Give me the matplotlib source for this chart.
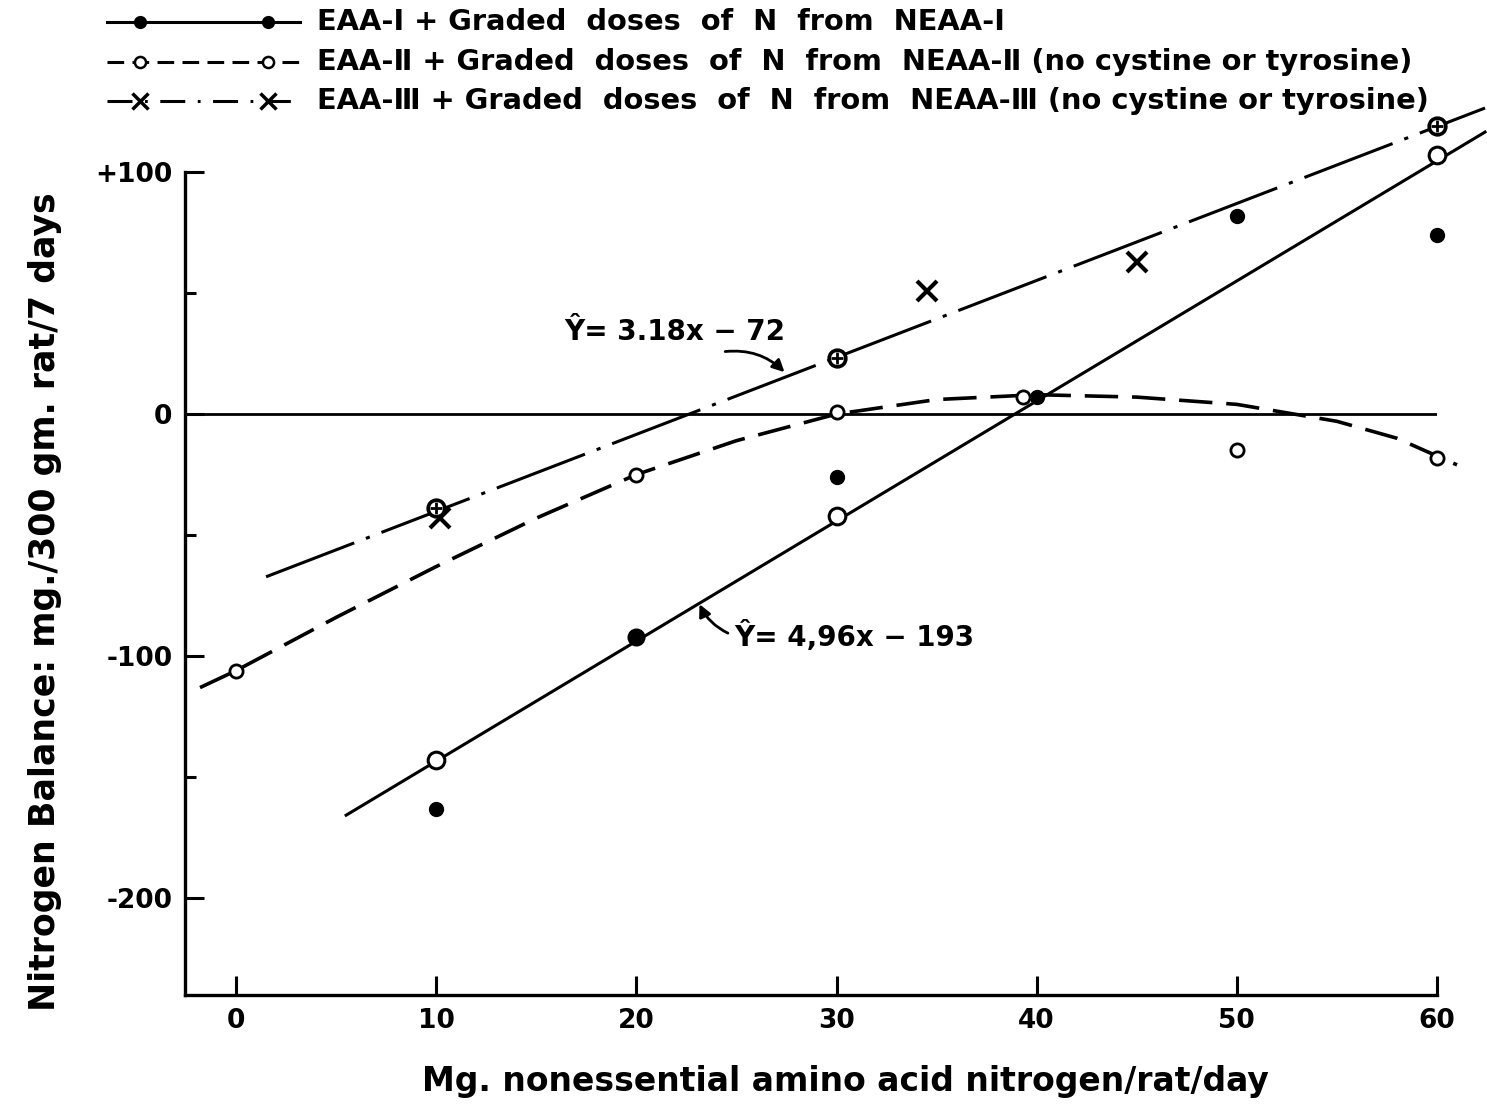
"""
窒素出納プロット（非必須アミノ酸窒素の段階投与）
"""
import matplotlib
matplotlib.use("Agg")
import matplotlib.pyplot as plt
from matplotlib.lines import Line2D

plt.rcParams['font.family'] = ['DejaVu Sans']
plt.rcParams['font.weight'] = 'bold'
plt.rcParams['lines.scale_dashes'] = False

# --- データ ---
# EAA-I 実測値（黒丸）
eaa1_x = [10, 30, 40, 50, 60]
eaa1_y = [-163, -26, 7, 82, 74]
# EAA-II 実測値（小さい白丸）
eaa2_x = [0, 20, 30, 39.3, 50, 60]
eaa2_y = [-106, -25, 1, 7, -15, -18]
# EAA-III 実測値（×）
eaa3_x = [10.2, 34.5, 45]
eaa3_y = [-43, 51, 63]

# 回帰直線 Y = 4.96x - 193（実線）上の点
fit1_x = [10, 30, 60]
fit1_y = [-143, -42, 107]
fit1_dark_x = [20]
fit1_dark_y = [-92]
# 回帰直線 Y = 3.18x - 72（一点鎖線）上の点
fit3_x = [10, 30, 60]
fit3_y = [-39, 23, 119]

# 回帰式の係数と描画範囲
line1_coef = (4.96, -193)
line1_range = [5.5, 62.4]
line3_coef = (3.18, -72)
line3_range = [1.5, 62.4]

# EAA-II の曲線（破線）
curve_x = [-1.8, 0, 5, 10, 15, 20, 25, 30, 35, 40, 45, 50, 55, 58, 61]
curve_y = [-113, -106, -84, -63, -43, -25, -11, 0, 6, 8, 7, 4, -3, -10, -21]

x_ticks = [0, 10, 20, 30, 40, 50, 60]
y_ticks = [100, 0, -100, -200]
y_ticklabels = ['+100', '0', '-100', '-200']
y_minor = [50, -50, -150]

legend_labels = [
    'EAA-I + Graded  doses  of  N  from  NEAA-I',
    'EAA-Ⅱ + Graded  doses  of  N  from  NEAA-Ⅱ (no cystine or tyrosine)',
    'EAA-Ⅲ + Graded  doses  of  N  from  NEAA-Ⅲ (no cystine or tyrosine)',
]

W, H = 1487, 1112
fig = plt.figure(figsize=(W / 100, H / 100), dpi=100)
ax = fig.add_axes([185 / W, 1 - 995 / H, (1437 - 185) / W, (995 - 172) / H])

dash_style = (0, (24, 10))
dashdot_style = (0, (68, 9, 3, 9))
lw = 2.2

# 直線・曲線
def reg(coef, xs):
    return [coef[0] * x + coef[1] for x in xs]

ax.plot(line1_range, reg(line1_coef, line1_range), color='black', lw=lw, clip_on=False)
ax.plot(line3_range, reg(line3_coef, line3_range), color='black', lw=lw,
        ls=dashdot_style, clip_on=False)
ax.plot(curve_x, curve_y, color='black', lw=2.6, ls=dash_style, clip_on=False)
ax.axhline(0, xmax=1.0, color='black', lw=2.0)

# マーカー
ax.plot(eaa1_x, eaa1_y, 'o', ms=10, color='black', clip_on=False, zorder=5)
ax.plot(eaa2_x, eaa2_y, 'o', ms=9.5, mfc='white', mec='black', mew=2.0,
        clip_on=False, zorder=5)
ax.plot(eaa3_x, eaa3_y, 'x', ms=14, color='black', mew=3.0, clip_on=False, zorder=5)
ax.plot(fit1_x, fit1_y, 'o', ms=12, mfc='white', mec='black', mew=2.2,
        clip_on=False, zorder=5)
ax.plot(fit1_dark_x, fit1_dark_y, 'o', ms=12, color='black', clip_on=False, zorder=5)
ax.plot(fit3_x, fit3_y, 'o', ms=12, mfc='white', mec='black', mew=2.6,
        clip_on=False, zorder=5)
ax.plot(fit3_x, fit3_y, '+', ms=8, color='black', mew=2.0, clip_on=False, zorder=6)

# 回帰式の注記
ax.text(16.4, 34, 'Ŷ= 3.18x − 72', fontsize=20, ha='left', va='center')
ax.annotate('', xy=(27.5, 16.5), xytext=(24.3, 25.7),
            arrowprops=dict(arrowstyle='-|>', connectionstyle='arc3,rad=-0.25',
                            color='black', lw=2, mutation_scale=18))
ax.text(24.9, -92, 'Ŷ= 4,96x − 193', fontsize=20, ha='left', va='center')
ax.annotate('', xy=(23.1, -77.5), xytext=(24.7, -91),
            arrowprops=dict(arrowstyle='-|>', connectionstyle='arc3,rad=-0.2',
                            color='black', lw=2, mutation_scale=18))

# 軸
ax.set_xlim(-2.55, 60)
ax.set_ylim(-240, 100)
ax.set_xticks(x_ticks)
ax.set_yticks(y_ticks)
ax.set_yticklabels(y_ticklabels)
ax.set_yticks(y_minor, minor=True)
for s in ['top', 'right']:
    ax.spines[s].set_visible(False)
for s in ['left', 'bottom']:
    ax.spines[s].set_linewidth(2.4)
ax.tick_params(axis='both', which='major', direction='in', length=14, width=2.2,
               labelsize=19, pad=9)
ax.tick_params(axis='y', which='minor', direction='in', length=8, width=2.2)

fig.text(45 / W, 1 - 602 / H, 'Nitrogen Balance: mg./300 gm. rat/7 days',
         rotation=90, ha='center', va='center', fontsize=25)
fig.text(845 / W, 1 - 1082 / H, 'Mg. nonessential amino acid nitrogen/rat/day',
         ha='center', va='center', fontsize=23.8)

# 凡例（手描き風に配置）
row_y = [22, 62, 101]
handle_styles = [
    dict(ls='-', marker='o', mfc='black', mec='black', ms=8),
    dict(ls=(0, (12, 6)), marker='o', mfc='white', mec='black', ms=8, mew=1.8),
    dict(ls=(0, (18, 9, 2, 9)), marker='x', mfc='black', mec='black', ms=11, mew=2.5),
]
for y, style, label in zip(row_y, handle_styles, legend_labels):
    fy = 1 - y / H
    fig.add_artist(Line2D([107 / W, 300 / W], [fy, fy], color='black', lw=2.2,
                          transform=fig.transFigure, ls=style['ls']))
    fig.add_artist(Line2D([140 / W, 268 / W], [fy, fy], lw=0, marker=style['marker'],
                          mfc=style['mfc'], mec=style['mec'], ms=style['ms'],
                          mew=style.get('mew', 1.5), transform=fig.transFigure))
    fig.text(317 / W, fy, label, ha='left', va='center', fontsize=20.8)

fig.savefig('out.png', dpi=100)
